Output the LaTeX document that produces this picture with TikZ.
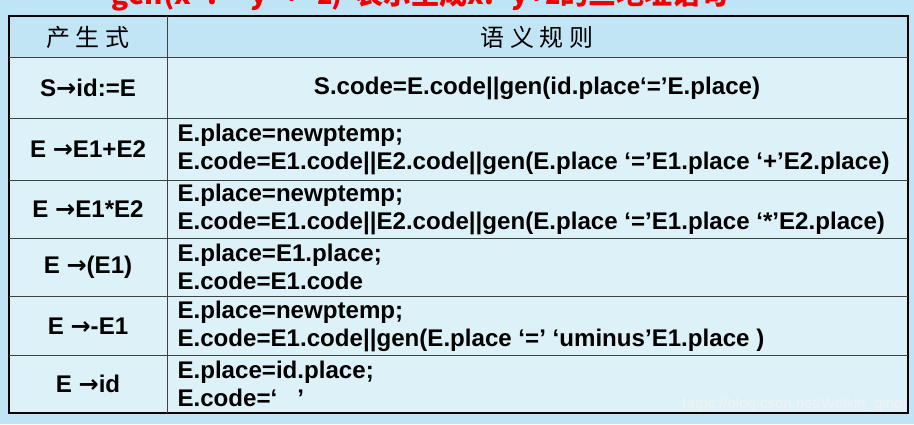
\documentclass[tikz,border=0pt]{standalone}
\usepackage{fontspec}
\setmainfont{Liberation Sans}
\newfontfamily\cjk{Noto Sans CJK SC}
\newfontfamily\arr{DejaVu Sans}
\newcommand{\ar}{{\arr\bfseries →}}
\definecolor{bgout}{HTML}{BFE4F5}
\definecolor{cellhd}{HTML}{C2E5F5}
\definecolor{cellbd}{HTML}{DDF1F8}
\definecolor{titlered}{HTML}{F00000}
\begin{document}
\begin{tikzpicture}[x=1pt,y=-1pt,
  rt/.style={font=\fontsize{24.1}{28}\selectfont\bfseries, text=black},
  lt/.style={rt, anchor=west, align=left},
  hd/.style={font=\cjk\fontsize{24}{28}\selectfont, text=black}]
\useasboundingbox (0,0) rectangle (914,424);
\clip (0,0) rectangle (914,424);
\fill[bgout] (0,0) rectangle (914,424);
\node[font=\fontsize{28}{30}\selectfont\bfseries\cjk, text=titlered, anchor=base] (title) at (420,4) {gen(x ':=' y '+' z)\ \ 表示生成x:=y+z的三地址语句};
\fill[cellhd] (9,16) rectangle (908,57);
\fill[cellbd] (9,57) rectangle (908,413);
\draw[line width=1.2pt] (9,16) rectangle (908,413);
\foreach \y in {57,118,180,238,296,355} \draw[line width=0.8pt, black!75] (9,\y) -- (908,\y);
\draw[line width=0.8pt, black!75] (167,16) -- (167,413);
\node[hd] (h1) at (88,37) {产 生 式};
\node[hd] (h2) at (537,37) {语 义 规 则};
\node[rt] (p1) at (88,88) {S\ar id:=E};
\node[rt] (r1) at (537,88) {S.code=E.code||gen(id.place‘=’E.place)};
\node[rt] (p2) at (88,149) {E \ar E1+E2};
\node[lt] (r2) at (174,149) {E.place=newptemp;\\E.code=E1.code||E2.code||gen(E.place ‘=’E1.place ‘+’E2.place)};
\node[rt] (p3) at (88,209) {E \ar E1*E2};
\node[lt] (r3) at (174,209) {E.place=newptemp;\\E.code=E1.code||E2.code||gen(E.place ‘=’E1.place ‘*’E2.place)};
\node[rt] (p4) at (88,267) {E \ar (E1)};
\node[lt] (r4) at (174,267) {E.place=E1.place;\\E.code=E1.code};
\node[rt] (p5) at (88,326) {E \ar -E1};
\node[lt] (r5) at (174,326) {E.place=newptemp;\\E.code=E1.code||gen(E.place ‘=’ ‘uminus’E1.place )};
\node[rt] (p6) at (88,384) {E \ar id};
\node[lt] (r6) at (174,384) {E.place=id.place;\\E.code=‘\ \ \ ’};
\node[font=\fontsize{15}{17}\selectfont, text=white!90!gray, anchor=south east] (wm) at (906,415) {https://blog.csdn.net/Welkin\_qing};
\end{tikzpicture}
\end{document}
